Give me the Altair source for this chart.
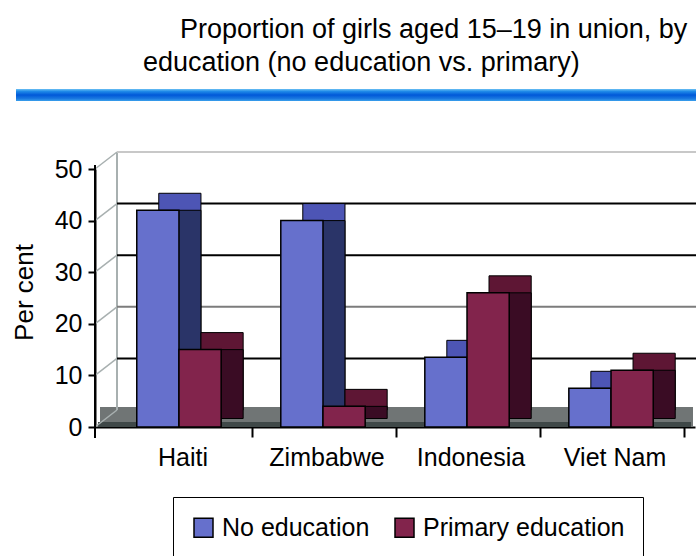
import altair as alt
import pandas as pd

# Proportion of girls aged 15-19 in union, by level of education
countries = ["Haiti", "Zimbabwe", "Indonesia", "Viet Nam"]
no_education = [42, 40, 13.5, 7.5]
primary_education = [15, 4, 26, 11]
series = ["No education", "Primary education"]
y_ticks = [0, 10, 20, 30, 40, 50]

title_lines = [
    "Proportion of girls aged 15\u201319 in union, by",
    "education (no education vs. primary)",
]

rows = []
for c, a, b in zip(countries, no_education, primary_education):
    rows.append({"country": c, "series": series[0], "value": a})
    rows.append({"country": c, "series": series[1], "value": b})
df = pd.DataFrame(rows)
ticks_df = pd.DataFrame({"v": y_ticks})

# face colours: front, top, side
front_colors = ["#6670cc", "#82244c"]
top_colors = ["#4d55b5", "#5e1634"]
side_colors = ["#2a3468", "#3a0c24"]

W, H = 600, 258
DX, DY = 22, -17  # depth of the 3-D extrusion in pixels

# ticks sit in the gaps after each group; labels stay under the bars
x_axis = alt.Axis(
    title=None,
    labelAngle=0,
    labelFontSize=25,
    labelColor="black",
    labelPadding=8,
    labelOffset=4,
    labelLimit=300,
    bandPosition=1.37,
    tickSize=10,
    tickColor="black",
    tickWidth=2,
    domainColor="black",
    domainWidth=2,
)


def x_enc(shift=0, with_axis=False):
    """Band scale for countries; shifted copies draw the depth faces."""
    scale = alt.Scale(paddingInner=0.414, paddingOuter=0.29)
    if shift:
        scale = alt.Scale(paddingInner=0.414, paddingOuter=0.29, range=[shift, W + shift])
    if with_axis:
        return alt.X("country:N", sort=countries, scale=scale, axis=x_axis)
    return alt.X("country:N", sort=countries, scale=scale, axis=None)


xo_enc = alt.XOffset("series:N", scale=alt.Scale(domain=series, paddingInner=0, paddingOuter=0))
y_scale = alt.Scale(domain=[0, 50], nice=False)
y_enc = alt.Y(
    "value:Q",
    scale=y_scale,
    axis=alt.Axis(
        values=y_ticks,
        title="Per cent",
        titleFontSize=26,
        titleFontWeight="normal",
        titleColor="black",
        titleX=-63,
        titleY=123,
        titleBaseline="alphabetic",
        labelFontSize=25,
        labelColor="black",
        labelPadding=6,
        tickSize=7,
        tickColor="black",
        tickWidth=2,
        domainColor="black",
        domainWidth=2,
        grid=False,
    ),
)

one = pd.DataFrame({"z": [0]})

# floor of the 3-D box
floor = alt.Chart(one).mark_rect(color="#707575", yOffset=-20).encode(
    x=alt.value(5), x2=alt.value(598), y=alt.datum(0, scale=y_scale), y2=alt.datum(0)
)
floor_edge = alt.Chart(one).mark_rect(color="#3f4848", yOffset=-5).encode(
    x=alt.value(3), x2=alt.value(596), y=alt.datum(0), y2=alt.datum(0)
)
# vertical axis line running a little past both ends
axis_line = alt.Chart(one).mark_rule(color="black", strokeWidth=2, yOffset=-4, y2Offset=11).encode(
    x=alt.value(0), y=alt.datum(50), y2=alt.datum(0)
)

# back wall: left edge, tick connectors and gridlines
wall_edge = alt.Chart(one).mark_rule(
    color="#a8b0b0", strokeWidth=2, yOffset=DY, y2Offset=DY
).encode(x=alt.value(DX), y=alt.datum(0), y2=alt.datum(50))
connectors = alt.Chart(ticks_df).mark_rule(color="#a8b0b0", strokeWidth=1.5, y2Offset=DY).encode(
    x=alt.value(0), x2=alt.value(DX), y="v:Q", y2="v:Q"
)
grid = (
    alt.Chart(ticks_df)
    .transform_filter("datum.v > 0")
    .transform_calculate(
        shade="datum.v == 50 ? '#c8c8c8' : (datum.v == 20 ? '#7c7c7c' : '#000000')"
    )
    .mark_rule(strokeWidth=2, yOffset=DY)
    .encode(x=alt.value(DX), x2=alt.value(601), y="v:Q", color=alt.Color("shade:N", scale=None))
)


def bar_layers(i):
    s = series[i]
    base = alt.Chart(df).transform_filter(alt.datum.series == s)
    # top face: the whole box pushed back in depth
    back = base.mark_bar(
        color=top_colors[i], stroke="black", strokeWidth=1, yOffset=DY, y2Offset=DY,
    ).encode(x=x_enc(DX), xOffset=xo_enc, y=y_enc, y2=alt.datum(0))
    # side face: starts level with the front top, ends part way up the floor
    side = base.mark_bar(
        color=side_colors[i], stroke="black", strokeWidth=1, yOffset=0, y2Offset=DY / 2,
    ).encode(x=x_enc(DX), xOffset=xo_enc, y=y_enc, y2=alt.datum(0))
    front = base.mark_bar(stroke="black", strokeWidth=1.5).encode(
        x=x_enc(0, with_axis=(i == 0)),
        xOffset=xo_enc,
        y=y_enc,
        y2=alt.datum(0),
        color=alt.Color(
            "series:N",
            scale=alt.Scale(domain=series, range=front_colors),
            legend=alt.Legend(
                orient="none",
                legendX=78,
                legendY=328,
                direction="horizontal",
                title=None,
                strokeColor="black",
                padding=18,
                symbolType="square",
                symbolSize=361,
                symbolStrokeColor="black",
                symbolStrokeWidth=1.5,
                labelFontSize=25,
                labelColor="black",
                labelOffset=6,
                labelLimit=300,
                columnPadding=22,
            ),
        ),
    )
    return [back, side, front]


title1 = alt.Chart(pd.DataFrame({"t": [title_lines[0]]})).mark_text(
    align="left", baseline="alphabetic", fontSize=27, color="black"
).encode(x=alt.value(85), y=alt.value(-131), text="t:N")
title2 = alt.Chart(pd.DataFrame({"t": [title_lines[1]]})).mark_text(
    align="left", baseline="alphabetic", fontSize=27, color="black"
).encode(x=alt.value(48), y=alt.value(-98), text="t:N")

# blue rule under the heading
rule_band = alt.Chart(one).mark_rect(
    color=alt.Gradient(
        gradient="linear",
        x1=0, y1=0, x2=0, y2=1,
        stops=[
            alt.GradientStop(offset=0, color="#6cc0f4"),
            alt.GradientStop(offset=0.2, color="#1f8ae8"),
            alt.GradientStop(offset=0.5, color="#0058d8"),
            alt.GradientStop(offset=0.8, color="#1a78e0"),
            alt.GradientStop(offset=1, color="#3aa0ec"),
        ],
    )
).encode(x=alt.value(-79), x2=alt.value(601), y=alt.value(-80), y2=alt.value(-68))

chart = alt.layer(
    floor, floor_edge, wall_edge, connectors, grid,
    *bar_layers(0), *bar_layers(1),
    axis_line, title1, title2, rule_band,
).resolve_scale(
    x="independent", xOffset="independent"
).properties(
    width=W,
    height=H,
    autosize=alt.AutoSizeParams(type="none"),
    padding={"left": 95, "top": 169, "right": 1, "bottom": 129},
).configure(font="Liberation Sans").configure_view(strokeWidth=0)

chart.save("out.html", embed_options={"renderer": "svg", "actions": False})
